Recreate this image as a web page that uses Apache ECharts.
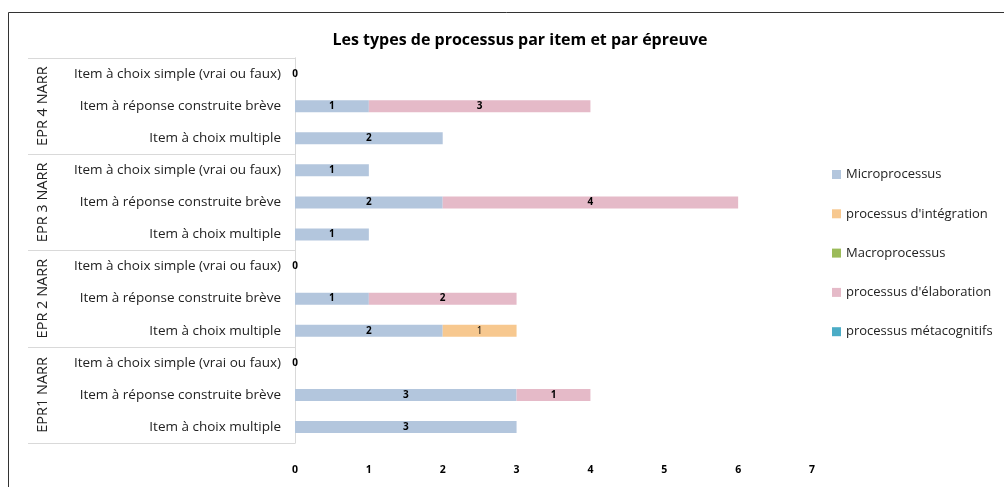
<!DOCTYPE html>
<html>
<head>
<meta charset="utf-8">
<script src="https://cdn.jsdelivr.net/npm/echarts@6/dist/echarts.min.js"></script>
<style>html,body{margin:0;padding:0;background:#fff}#c{width:1004px;height:487px}</style>
</head>
<body>
<div id="c"></div>
<script>
// Categories, bottom to top
const items = [
  "Item à choix multiple", "Item à réponse construite brève", "Item à choix simple (vrai ou faux)",
  "Item à choix multiple", "Item à réponse construite brève", "Item à choix simple (vrai ou faux)",
  "Item à choix multiple", "Item à réponse construite brève", "Item à choix simple (vrai ou faux)",
  "Item à choix multiple", "Item à réponse construite brève", "Item à choix simple (vrai ou faux)"
];
const groups = ["EPR1 NARR", "EPR 2 NARR", "EPR 3 NARR", "EPR 4 NARR"];
const seriesNames = ["Microprocessus", "processus d'intégration", "Macroprocessus", "processus d'élaboration", "processus métacognitifs"];
const micro       = [3, 3, 0, 2, 1, 0, 1, 2, 1, 2, 1, 0];
const integration = [null, null, null, 1, null, null, null, null, null, null, null, null];
const macro       = [null, null, null, null, null, null, null, null, null, null, null, null];
const elaboration = [null, 1, null, null, 2, null, null, 4, null, null, 3, null];
const metacog     = [null, null, null, null, null, null, null, null, null, null, null, null];
const xTicks = [0, 1, 2, 3, 4, 5, 6, 7];

const colors = ["#B3C6DD", "#F7C88F", "#9BBB59", "#E5BAC8", "#4BACC6"];
const font = "'Open Sans', sans-serif";
const values = [micro, integration, macro, elaboration, metacog];

const chart = echarts.init(document.getElementById('c'));
chart.setOption({
  animation: false,
  color: colors,
  title: {
    text: "Les types de processus par item et par épreuve",
    left: 515, top: 27, textAlign: 'center',
    textStyle: {fontFamily: font, fontWeight: 'bold', fontSize: 16, color: '#000'}
  },
  legend: {
    orient: 'vertical', left: 827, top: 163, itemGap: 26.3,
    itemWidth: 9, itemHeight: 9, icon: 'rect',
    data: seriesNames,
    textStyle: {fontFamily: font, fontSize: 13, color: '#222'}
  },
  graphic: [{
    type: 'rect', shape: {x: 8.5, y: 12.5, width: 1100, height: 600},
    style: {fill: 'none', stroke: '#333', lineWidth: 1}, silent: true
  }],
  grid: {left: 295, right: 192, top: 58, bottom: 44, containLabel: false},
  xAxis: {
    type: 'value', min: 0, max: 7, interval: 1,
    axisLine: {show: false}, axisTick: {show: false}, splitLine: {show: false},
    axisLabel: {margin: 22, fontFamily: font, fontWeight: 'bold', fontSize: 10.5, color: '#000',
      formatter: v => xTicks.includes(v) ? String(v) : ''}
  },
  yAxis: [{
    type: 'category', data: items, position: 'left',
    axisLine: {show: true, lineStyle: {color: '#D9D9D9'}},
    axisTick: {show: false},
    axisLabel: {margin: 14, fontFamily: font, fontSize: 13.5, color: '#222', interval: 0}
  }, {
    type: 'category', data: groups, position: 'left',
    axisLine: {show: true, lineStyle: {color: '#D9D9D9'}},
    axisTick: {show: true, length: 267, interval: 0, lineStyle: {color: '#D9D9D9'}},
    axisLabel: {margin: 245, rotate: 90, fontFamily: font, fontSize: 14.5, color: '#222', interval: 0}
  }],
  series: seriesNames.map((n, i) => ({
    name: n, type: 'bar', stack: 'total', yAxisIndex: 0,
    barWidth: 12, data: values[i],
    label: {
      show: true, position: 'inside', color: '#000',
      fontFamily: font, fontSize: 10, fontWeight: i === 1 ? 'normal' : 'bold',
      formatter: p => (p.value === null || p.value === undefined) ? '' : String(p.value)
    }
  }))
});
</script>
</body>
</html>
